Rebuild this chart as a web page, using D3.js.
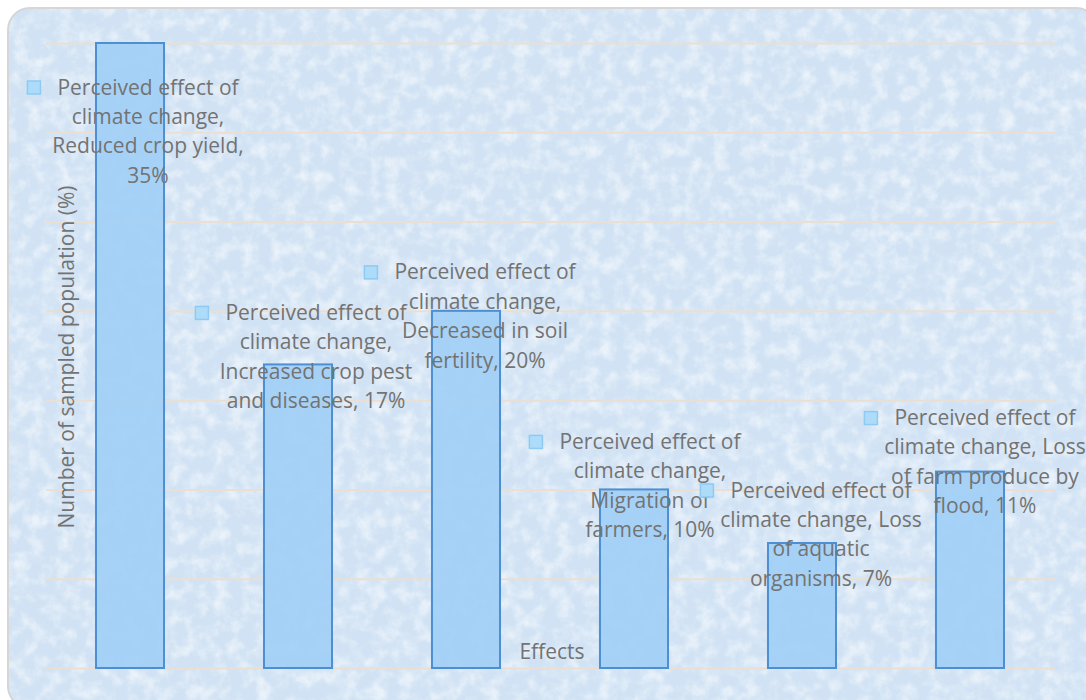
<!DOCTYPE html>
<html>
<head>
<meta charset="utf-8">
<script src="https://cdn.jsdelivr.net/npm/d3@7"></script>
<style>
  html, body { margin: 0; padding: 0; background: #ffffff; }
  svg { display: block; }
  text { font-family: "Open Sans", "Noto Sans", sans-serif; fill: #737373; }
</style>
</head>
<body>
<svg id="chart" width="1086" height="700"></svg>
<script>
// Perceived effects of climate change (% of sampled population)
const categories = [
  "Reduced crop yield",
  "Increased crop pest and diseases",
  "Decreased in soil fertility",
  "Migration of farmers",
  "Loss of aquatic organisms",
  "Loss of farm produce by flood"
];
const values = [35, 17, 20, 10, 7, 11];
const seriesName = "Perceived effect of climate change";
const yTicks = [0, 5, 10, 15, 20, 25, 30, 35];
const yTitle = "Number of sampled population (%)";
const xTitle = "Effects";

// Line breaks of each data label ({v} is replaced by the value)
const labelLines = [
  ["Perceived effect of", "climate change,", "Reduced crop yield,", "{v}%"],
  ["Perceived effect of", "climate change,", "Increased crop pest", "and diseases, {v}%"],
  ["Perceived effect of", "climate change,", "Decreased in soil", "fertility, {v}%"],
  ["Perceived effect of", "climate change,", "Migration of", "farmers, {v}%"],
  ["Perceived effect of", "climate change, Loss", "of aquatic", "organisms, {v}%"],
  ["Perceived effect of", "climate change, Loss", "of farm produce by", "flood, {v}%"]
];

// Label placement relative to the bar centre / bar top
const labelOffsets = [
  { dx: 18, dy: 44 },
  { dx: 18, dy: -52 },
  { dx: 19, dy: -39 },
  { dx: 16, dy: -48 },
  { dx: 19, dy: -53 },
  { dx: 15, dy: -54 }
];

const W = 1086, H = 700;
const plot = { left: 46, right: 1054, top: 43, bottom: 668 };
const fontSize = "21px";

const svg = d3.select("#chart");
const defs = svg.append("defs");

// paper-like texture for the chart area
const f = defs.append("filter").attr("id", "paper")
  .attr("x", 0).attr("y", 0).attr("width", 1).attr("height", 1);
f.append("feTurbulence").attr("type", "fractalNoise")
  .attr("baseFrequency", "0.07").attr("numOctaves", 4).attr("seed", 7).attr("result", "n");
f.append("feColorMatrix").attr("in", "n").attr("type", "matrix")
  .attr("values", "0 0 0 0 1  0 0 0 0 1  0 0 0 0 1  0 0 0 -2.2 1.35");

defs.append("clipPath").attr("id", "area")
  .append("rect").attr("x", 8).attr("y", 8).attr("width", 1090).attr("height", 700).attr("rx", 22);

const bg = svg.append("g").attr("clip-path", "url(#area)");
bg.append("rect").attr("x", 8).attr("y", 8).attr("width", 1090).attr("height", 700)
  .attr("fill", "#d0e2f4");
bg.append("rect").attr("x", 8).attr("y", 8).attr("width", 1090).attr("height", 700)
  .attr("fill", "#ffffff").attr("filter", "url(#paper)").attr("opacity", 0.55);

svg.append("rect").attr("x", 8).attr("y", 8).attr("width", 1090).attr("height", 700)
  .attr("rx", 22).attr("fill", "none").attr("stroke", "#d6d6d6").attr("stroke-width", 2);

const x = d3.scaleBand().domain(categories)
  .range([plot.left, plot.right]).paddingInner(0.595).paddingOuter(0.2976);
const y = d3.scaleLinear().domain([0, 35]).range([plot.bottom, plot.top]);

// gridlines
const yAxis = d3.axisLeft(y).tickValues(yTicks).tickSize(-(plot.right + 2 - plot.left)).tickFormat("");
const gy = svg.append("g").attr("transform", `translate(${plot.left},0)`).call(yAxis);
gy.select(".domain").remove();
gy.selectAll(".tick line").attr("stroke", "#eadfd2").attr("stroke-width", 2);

// bars
svg.append("g").selectAll("rect").data(values).join("rect")
  .attr("x", (d, i) => x(categories[i]))
  .attr("y", d => y(d))
  .attr("width", x.bandwidth())
  .attr("height", d => y(0) - y(d))
  .attr("fill", "#a2cff6")
  .attr("fill-opacity", 0.92)
  .attr("stroke", "#4d8fd2")
  .attr("stroke-width", 2);

// axis titles
svg.append("text")
  .attr("transform", `translate(74,${357}) rotate(-90)`)
  .attr("text-anchor", "middle")
  .style("font-size", fontSize)
  .text(yTitle);

svg.append("text")
  .attr("x", 552).attr("y", 659)
  .attr("text-anchor", "middle")
  .style("font-size", fontSize)
  .text(xTitle);

// data labels with legend key
const lineH = 29.4;
const labels = svg.append("g");
values.forEach((v, i) => {
  const cx = x(categories[i]) + x.bandwidth() / 2 + labelOffsets[i].dx;
  const cy = y(v) + labelOffsets[i].dy;
  const g = labels.append("g");
  const t = g.append("text").attr("text-anchor", "middle").style("font-size", fontSize);
  labelLines[i].forEach((ln, k) => {
    t.append("tspan").attr("x", cx).attr("y", cy + k * lineH + 7.5)
      .text(ln.replace("{v}", v));
  });
  const w0 = t.select("tspan").node().getComputedTextLength();
  g.append("rect")
    .attr("x", cx - w0 / 2 - 30).attr("y", cy - 6)
    .attr("width", 13).attr("height", 13)
    .attr("fill", "#acdcfa").attr("stroke", "#8fcaf2").attr("stroke-width", 1.5);
});
</script>
</body>
</html>
